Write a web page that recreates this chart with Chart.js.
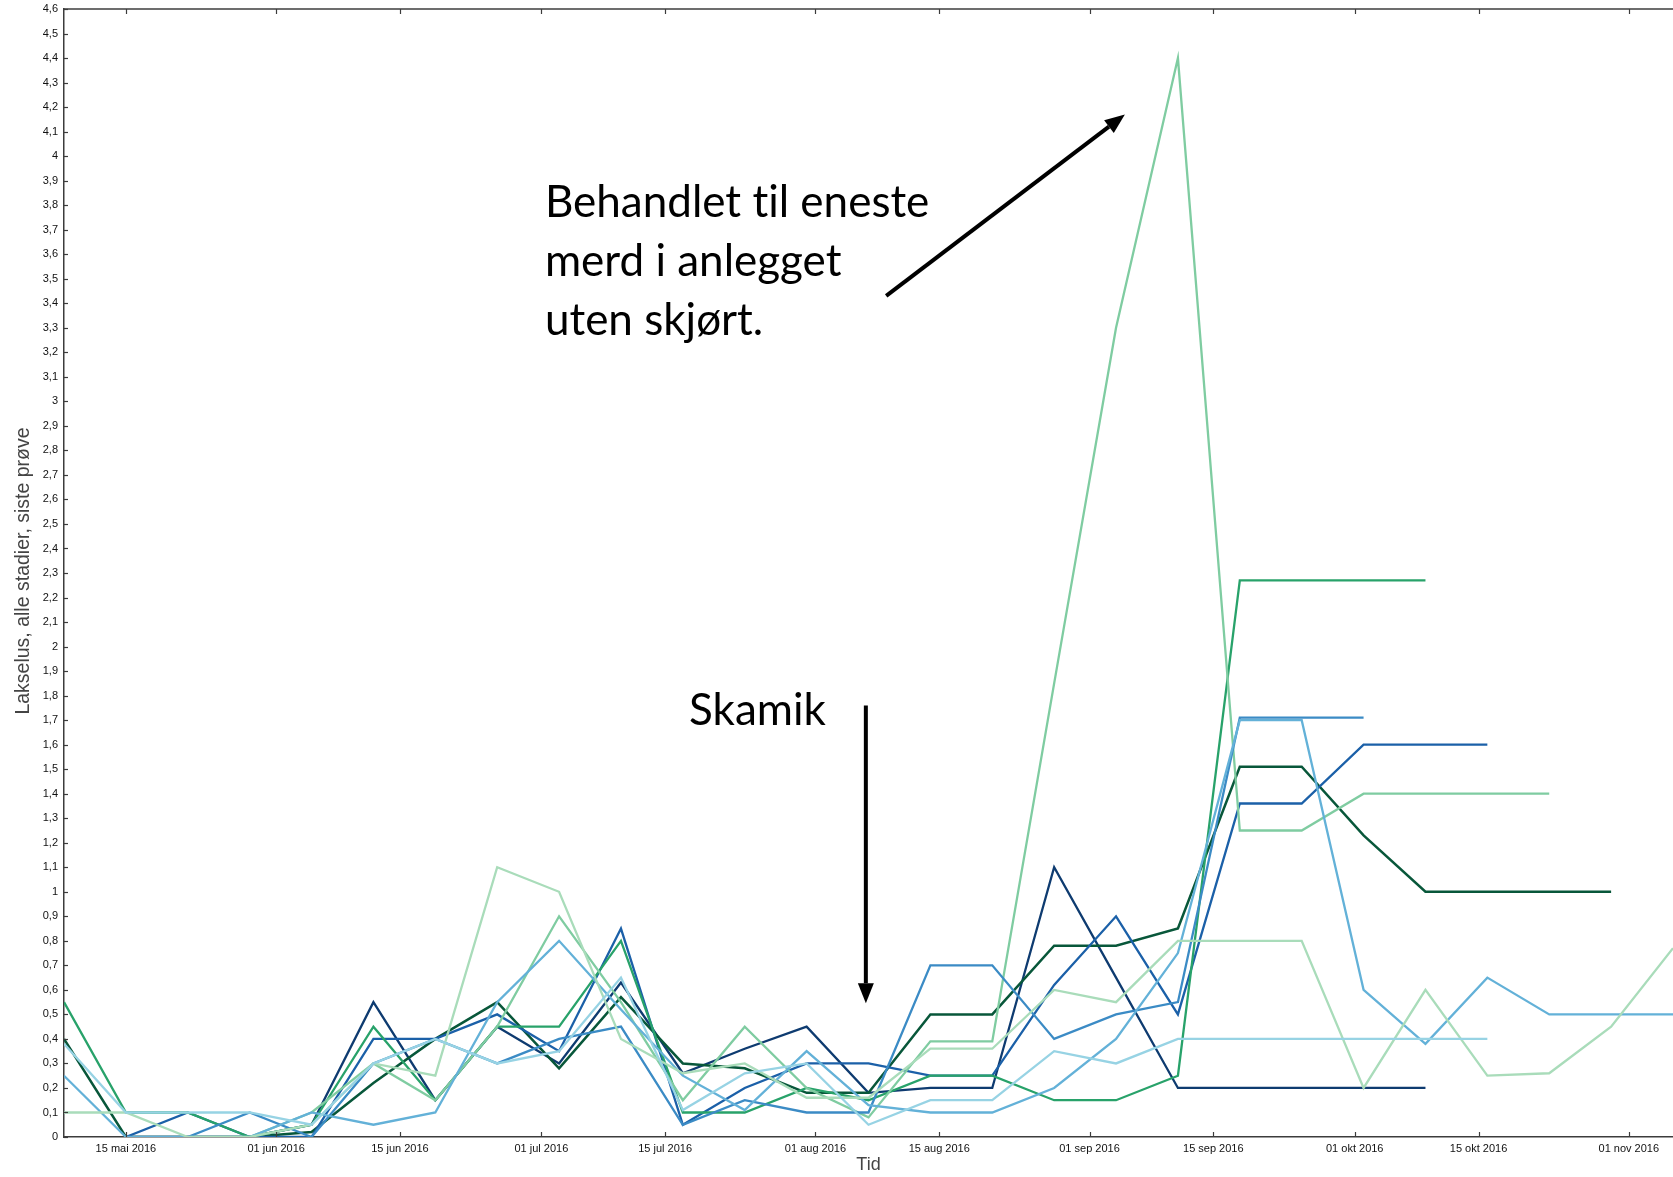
<!DOCTYPE html>
<html lang="no">
<head>
<meta charset="utf-8">
<title>Lakselus, alle stadier, siste prøve</title>
<script src="https://cdn.jsdelivr.net/npm/chart.js@4.4.1/dist/chart.umd.min.js"></script>
<style>
  html, body { margin: 0; padding: 0; background: #fff; }
  #ramme { width: 1673px; height: 1177px; }
</style>
</head>
<body>
<div id="ramme"><canvas id="graf" width="1673" height="1177"></canvas></div>
<script>
/**
 * Lakselus per merd, ukentlige prøver mai–november 2016.
 * x = dager etter 08.05.2016, y = lus per fisk (alle stadier).
 */

// Prøvedager (dager etter 08 mai 2016), én per uke
const dager = [0, 7, 14, 21, 28, 35, 42, 49, 56, 63, 70, 77, 84, 91,
               98, 105, 112, 119, 126, 133, 140, 147, 154, 161, 168, 175, 182];

// Akseetiketter på x-aksen
const xTickDager    = [7, 24, 38, 54, 68, 85, 99, 116, 130, 146, 160, 177];
const xTickEtiketter = ['15 mai 2016', '01 jun 2016', '15 jun 2016', '01 jul 2016',
                        '15 jul 2016', '01 aug 2016', '15 aug 2016', '01 sep 2016',
                        '15 sep 2016', '01 okt 2016', '15 okt 2016', '01 nov 2016'];

// Én serie per merd (null = ingen prøve)
const merdMarine   = [null, 0, 0, 0, 0.05, 0.55, 0.15, 0.45, 0.3, 0.63, 0.26, 0.36, 0.45, 0.18,
                      0.2, 0.2, 1.1, 0.65, 0.2, 0.2, 0.2, 0.2, 0.2, null, null, null, null];
const merdBla      = [null, 0, 0.1, 0, 0, 0.4, 0.4, 0.5, 0.35, 0.85, 0.05, 0.2, 0.3, 0.3,
                      0.25, 0.25, 0.62, 0.9, 0.5, 1.36, 1.36, 1.6, 1.6, 1.6, null, null, null];
const merdMellomBla = [null, null, 0, 0.1, 0, 0.3, 0.4, 0.3, 0.4, 0.45, 0.05, 0.15, 0.1, 0.1,
                      0.7, 0.7, 0.4, 0.5, 0.55, 1.71, 1.71, 1.71, null, null, null, null, null];
const merdLyseBla  = [0.25, 0, 0, 0, 0.1, 0.05, 0.1, 0.55, 0.8, 0.52, 0.25, 0.11, 0.35, 0.13,
                      0.1, 0.1, 0.2, 0.4, 0.75, 1.7, 1.7, 0.6, 0.38, 0.65, 0.5, 0.5, 0.5];
const merdIsBla    = [0.38, 0.1, 0.1, 0.1, 0.05, 0.3, 0.4, 0.3, 0.35, 0.65, 0.11, 0.26, 0.3, 0.05,
                      0.15, 0.15, 0.35, 0.3, 0.4, 0.4, 0.4, 0.4, 0.4, 0.4, null, null, null];
const merdMorkGronn = [0.4, 0, 0, 0, 0.02, 0.22, 0.4, 0.55, 0.28, 0.57, 0.3, 0.28, 0.18, 0.18,
                      0.5, 0.5, 0.78, 0.78, 0.85, 1.51, 1.51, 1.23, 1.0, 1.0, 1.0, 1.0, null];
const merdGronn    = [0.55, 0.1, 0.1, 0, 0.05, 0.45, 0.15, 0.45, 0.45, 0.8, 0.1, 0.1, 0.2, 0.15,
                      0.25, 0.25, 0.15, 0.15, 0.25, 2.27, 2.27, 2.27, 2.27, null, null, null, null];
const merdLysGronn = [null, null, null, 0, 0.1, 0.3, 0.15, 0.45, 0.9, 0.55, 0.15, 0.45, 0.2, 0.08,
                      0.39, 0.39, 1.85, 3.3, 4.4, 1.25, 1.25, 1.4, 1.4, 1.4, 1.4, null, null];
const merdBlekGronn = [0.1, 0.1, 0, 0, 0.05, 0.3, 0.25, 1.1, 1.0, 0.4, 0.26, 0.3, 0.16, 0.16,
                      0.36, 0.36, 0.6, 0.55, 0.8, 0.8, 0.8, 0.2, 0.6, 0.25, 0.26, 0.45, 0.77];

const AKSEFARGE = '#3c3c3c';

/**
 * Lager punktene {x, y} for en serie og hopper over manglende prøver.
 */
function punkter(verdier) {
    return dager
        .map((d, i) => ({ x: d, y: verdier[i] }))
        .filter(p => p.y !== null);
}

function serie(verdier, farge, bredde) {
    return {
        data        : punkter(verdier),
        borderColor : farge,
        borderWidth : bredde,
        pointRadius : 0,
        tension     : 0,
        fill        : false
    };
}

// Tegner ramme, innovervendte tikker, aksetitler og merknader
const tegnPynt = {
    id: 'tegnPynt',
    afterDraw(chart) {
        const { ctx, chartArea: a, scales: { x, y } } = chart;
        const strek = (x1, y1, x2, y2) => {
            ctx.beginPath(); ctx.moveTo(x1, y1); ctx.lineTo(x2, y2); ctx.stroke();
        };
        ctx.save();

        ctx.strokeStyle = AKSEFARGE;
        ctx.lineWidth = 1.5;
        strek(a.left, a.top, a.right, a.top);

        ctx.lineWidth = 1.2;
        xTickDager.forEach(d => {
            const px = Math.round(x.getPixelForValue(d)) + 0.5;
            strek(px, a.bottom, px, a.bottom - 5);
            strek(px, a.top, px, a.top + 5);
        });
        y.ticks.forEach(t => {
            const py = Math.round(y.getPixelForValue(t.value)) + 0.5;
            strek(a.left, py, a.left + 4, py);
        });

        // Aksetitler
        ctx.fillStyle = '#444';
        ctx.font = '18px "Liberation Sans", Arial, sans-serif';
        ctx.textAlign = 'center';
        ctx.textBaseline = 'middle';
        ctx.fillText('Tid', x.getPixelForValue(91), 1165);

        ctx.save();
        ctx.translate(24, 571);
        ctx.rotate(-Math.PI / 2);
        ctx.font = '19.5px "Liberation Sans", Arial, sans-serif';
        ctx.fillText('Lakselus, alle stadier, siste prøve', 0, 0);
        ctx.restore();

        // Merknader (ZWNJ hindrer Lato-ligaturen «ti»)
        ctx.fillStyle = '#000';
        ctx.font = '44px Lato, "Open Sans", sans-serif';
        ctx.textAlign = 'left';
        const tx = x.getPixelForValue(54.4);
        ctx.fillText('Behandlet t\u200Cil eneste', tx, y.getPixelForValue(3.81));
        ctx.fillText('merd i anlegget', tx, y.getPixelForValue(3.57));
        ctx.fillText('uten skjørt.', tx, y.getPixelForValue(3.33));
        ctx.fillText('Skamik', x.getPixelForValue(70.7), y.getPixelForValue(1.74));

        pil(ctx, x.getPixelForValue(93.0), y.getPixelForValue(3.43),
                 x.getPixelForValue(120.0), y.getPixelForValue(4.17));
        pil(ctx, x.getPixelForValue(90.7), y.getPixelForValue(1.76),
                 x.getPixelForValue(90.7), y.getPixelForValue(0.545));

        ctx.restore();
    }
};

/**
 * Svart pil fra (x1, y1) til spissen (x2, y2).
 */
function pil(ctx, x1, y1, x2, y2) {
    const vinkel = Math.atan2(y2 - y1, x2 - x1);
    const lengde = 20, halv = 8;
    const bx = x2 - lengde * Math.cos(vinkel);
    const by = y2 - lengde * Math.sin(vinkel);
    ctx.strokeStyle = '#000';
    ctx.fillStyle = '#000';
    ctx.lineWidth = 4;
    ctx.beginPath(); ctx.moveTo(x1, y1); ctx.lineTo(bx, by); ctx.stroke();
    ctx.beginPath();
    ctx.moveTo(x2, y2);
    ctx.lineTo(bx + halv * Math.sin(vinkel), by - halv * Math.cos(vinkel));
    ctx.lineTo(bx - halv * Math.sin(vinkel), by + halv * Math.cos(vinkel));
    ctx.closePath();
    ctx.fill();
}

new Chart(document.getElementById('graf'), {
    type: 'line',
    data: {
        datasets: [
            serie(merdIsBla,     '#97d3e4', 2.3),
            serie(merdBlekGronn, '#a9dcba', 2.3),
            serie(merdLyseBla,   '#63b1d8', 2.3),
            serie(merdMellomBla, '#3b8bc5', 2.3),
            serie(merdLysGronn,  '#7fcca1', 2.3),
            serie(merdGronn,     '#28a26a', 2.3),
            serie(merdBla,       '#1b60a8', 2.3),
            serie(merdMorkGronn, '#08573a', 2.5),
            serie(merdMarine,    '#0e3b70', 2.3)
        ]
    },
    options: {
        responsive: false,
        animation: false,
        layout: { padding: { top: 9, right: 0, left: 0, bottom: 0 } },
        plugins: { legend: { display: false }, tooltip: { enabled: false } },
        scales: {
            x: {
                type: 'linear',
                min: 0,
                max: 182,
                afterFit: s => { s.height = 40; },
                afterBuildTicks: s => { s.ticks = xTickDager.map(v => ({ value: v })); },
                grid: { display: false, drawTicks: false },
                border: { display: true, color: AKSEFARGE, width: 1.5 },
                ticks: {
                    autoSkip: false,
                    maxRotation: 0,
                    padding: 5,
                    color: '#111',
                    font: { family: '"Liberation Sans", Arial, sans-serif', size: 11 },
                    callback: (v, i) => xTickEtiketter[i]
                }
            },
            y: {
                min: 0,
                max: 4.6,
                afterFit: s => { s.width = 64; s.paddingTop = 0; s.paddingBottom = 0; },
                grid: { display: false, drawTicks: false },
                border: { display: true, color: AKSEFARGE, width: 1.5 },
                ticks: {
                    stepSize: 0.1,
                    maxTicksLimit: 60,
                    autoSkip: false,
                    padding: 6,
                    color: '#111',
                    font: { family: '"Liberation Sans", Arial, sans-serif', size: 11 },
                    callback: v => String(Number(v.toFixed(1))).replace('.', ',')
                }
            }
        }
    },
    plugins: [tegnPynt]
});
</script>
</body>
</html>
